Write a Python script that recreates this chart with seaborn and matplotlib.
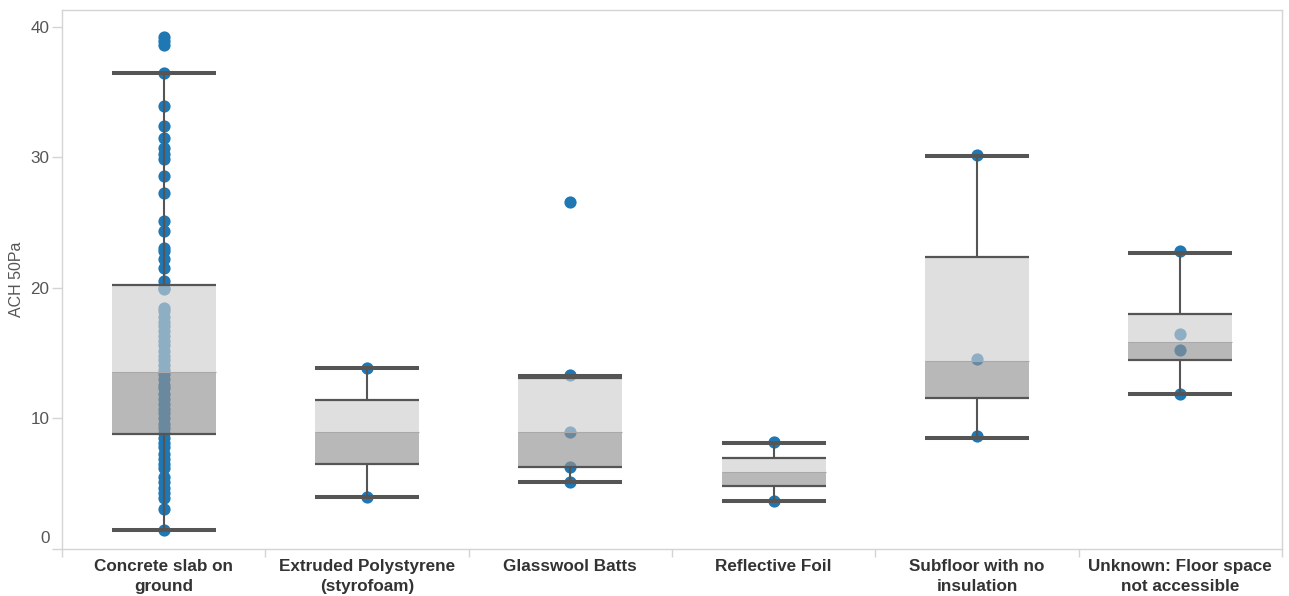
import matplotlib
matplotlib.use("Agg")
import matplotlib.pyplot as plt
import matplotlib.transforms as mtransforms
from matplotlib.ticker import FixedLocator
import pandas as pd
import seaborn as sns

# Floor insulation types and their wrapped axis labels
categories = [
    "Concrete slab on ground",
    "Extruded Polystyrene (styrofoam)",
    "Glasswool Batts",
    "Reflective Foil",
    "Subfloor with no insulation",
    "Unknown: Floor space not accessible",
]
tick_labels = [
    "Concrete slab on\nground",
    "Extruded Polystyrene\n(styrofoam)",
    "Glasswool Batts",
    "Reflective Foil",
    "Subfloor with no\ninsulation",
    "Unknown: Floor space\nnot accessible",
]

# Box plot summary per category (ACH @ 50 Pa)
whisker_low = [1.46, 4.01, 5.17, 3.71, 8.54, 11.84]
quartile_1 = [8.85, 6.55, 6.32, 4.86, 11.54, 14.45]
median = [13.56, 8.96, 8.96, 5.89, 14.43, 15.89]
quartile_3 = [20.26, 11.43, 13.12, 7.01, 22.36, 17.98]
whisker_high = [36.5, 13.89, 13.28, 8.16, 30.11, 22.66]

# Individual house measurements
concrete_slab = [
    39.2, 38.9, 38.6, 36.5, 33.95, 32.4, 31.5, 30.7, 30.3, 29.9, 28.6, 27.3,
    25.1, 24.4, 23.1, 22.8, 22.2, 21.5, 20.5, 20.0, 19.9, 18.5, 18.2, 17.8,
    17.4, 17.1, 16.7, 16.3, 15.9, 15.6, 15.2, 14.8, 14.5, 14.1, 13.7, 13.4,
    13.0, 12.6, 12.3, 11.9, 11.5, 11.1, 10.7, 10.4, 10.0, 9.6, 9.3, 8.9,
    8.5, 8.1, 7.8, 7.3, 6.9, 6.5, 6.2, 5.5, 5.1, 4.7, 4.3, 3.9, 3.1, 1.46,
]
extruded_polystyrene = [13.9, 3.95]
glasswool_batts = [26.55, 13.3, 8.95, 6.3, 5.12]
reflective_foil = [8.22, 3.66]
subfloor_none = [30.2, 14.55, 8.68]
unknown_floor = [22.8, 16.45, 15.25, 11.85]

point_lists = [concrete_slab, extruded_polystyrene, glasswool_batts,
               reflective_foil, subfloor_none, unknown_floor]

df = pd.DataFrame(
    [(cat, v) for cat, vals in zip(categories, point_lists) for v in vals],
    columns=["floor", "ach"],
)

sns.set_theme(style="white")
plt.rcParams["font.family"] = ["Liberation Sans", "DejaVu Sans"]

BLUE = "#1f77b4"
DARK = "#555555"
GRID = "#d4d4d4"
BOX_W = 0.51

fig = plt.figure(figsize=(12.89, 5.96), dpi=100)
ax = fig.add_axes([62 / 1289, 1 - 549 / 596, 1220 / 1289, 539 / 596])

sns.stripplot(data=df, x="floor", y="ach", order=categories, jitter=False,
              size=8.8, color=BLUE, linewidth=0, ax=ax, zorder=1)

for i in range(len(categories)):
    lo, q1, md, q3, hi = (whisker_low[i], quartile_1[i], median[i],
                          quartile_3[i], whisker_high[i])
    # lower half (Q1 -> median) and upper half (median -> Q3)
    ax.bar(i, md - q1, bottom=q1, width=BOX_W, color=(0.576, 0.576, 0.576),
           alpha=0.65, linewidth=0, zorder=2)
    ax.bar(i, q3 - md, bottom=md, width=BOX_W, color=(0.808, 0.808, 0.808),
           alpha=0.64, linewidth=0, zorder=2)
    ax.hlines(md, i - BOX_W / 2, i + BOX_W / 2, color="#a9a9a9", lw=0.8,
              zorder=3)
    # whiskers
    ax.vlines(i, q3, hi, color=DARK, lw=1.5, zorder=3)
    ax.vlines(i, lo, q1, color=DARK, lw=1.5, zorder=3)
    # box edges and whisker caps
    ax.hlines([q1, q3], i - BOX_W / 2, i + BOX_W / 2, color=DARK, lw=1.6,
              zorder=4)
    ax.hlines([lo, hi], i - BOX_W / 2, i + BOX_W / 2, color=DARK, lw=2.9,
              zorder=4)

ax.set_xlim(-0.5, len(categories) - 0.5)
ax.set_ylim(0, 41.3)
ax.set_yticks([0, 10, 20, 30, 40])
ax.set_xticks(range(len(categories)))
ax.set_xticklabels(tick_labels, fontsize=12.3, fontweight="bold",
                   color="#333333", linespacing=1.38)
ax.xaxis.set_minor_locator(FixedLocator([k - 0.5 for k in range(len(categories) + 1)]))
ax.tick_params(axis="x", which="major", length=0, pad=7.5)
ax.tick_params(axis="x", which="minor", length=6, width=1, color=GRID,
               direction="out", bottom=True)
ax.tick_params(axis="y", which="major", length=7, width=1, color=GRID,
               labelsize=12.3, labelcolor="#555555", pad=2, left=True)

ax.set_xlabel("")
ax.set_ylabel("ACH 50Pa", fontsize=11.5, color="#555555")
ax.yaxis.set_label_coords(-0.031, 0.5)

for side in ["left", "top", "right", "bottom"]:
    ax.spines[side].set_color(GRID)
    ax.spines[side].set_linewidth(1)

# lift the zero label above the baseline
zero_label = ax.get_yticklabels()[0]
zero_label.set_transform(zero_label.get_transform()
                         + mtransforms.ScaledTranslation(0, 12 / 100, fig.dpi_scale_trans))

fig.savefig("out.png", dpi=100)
